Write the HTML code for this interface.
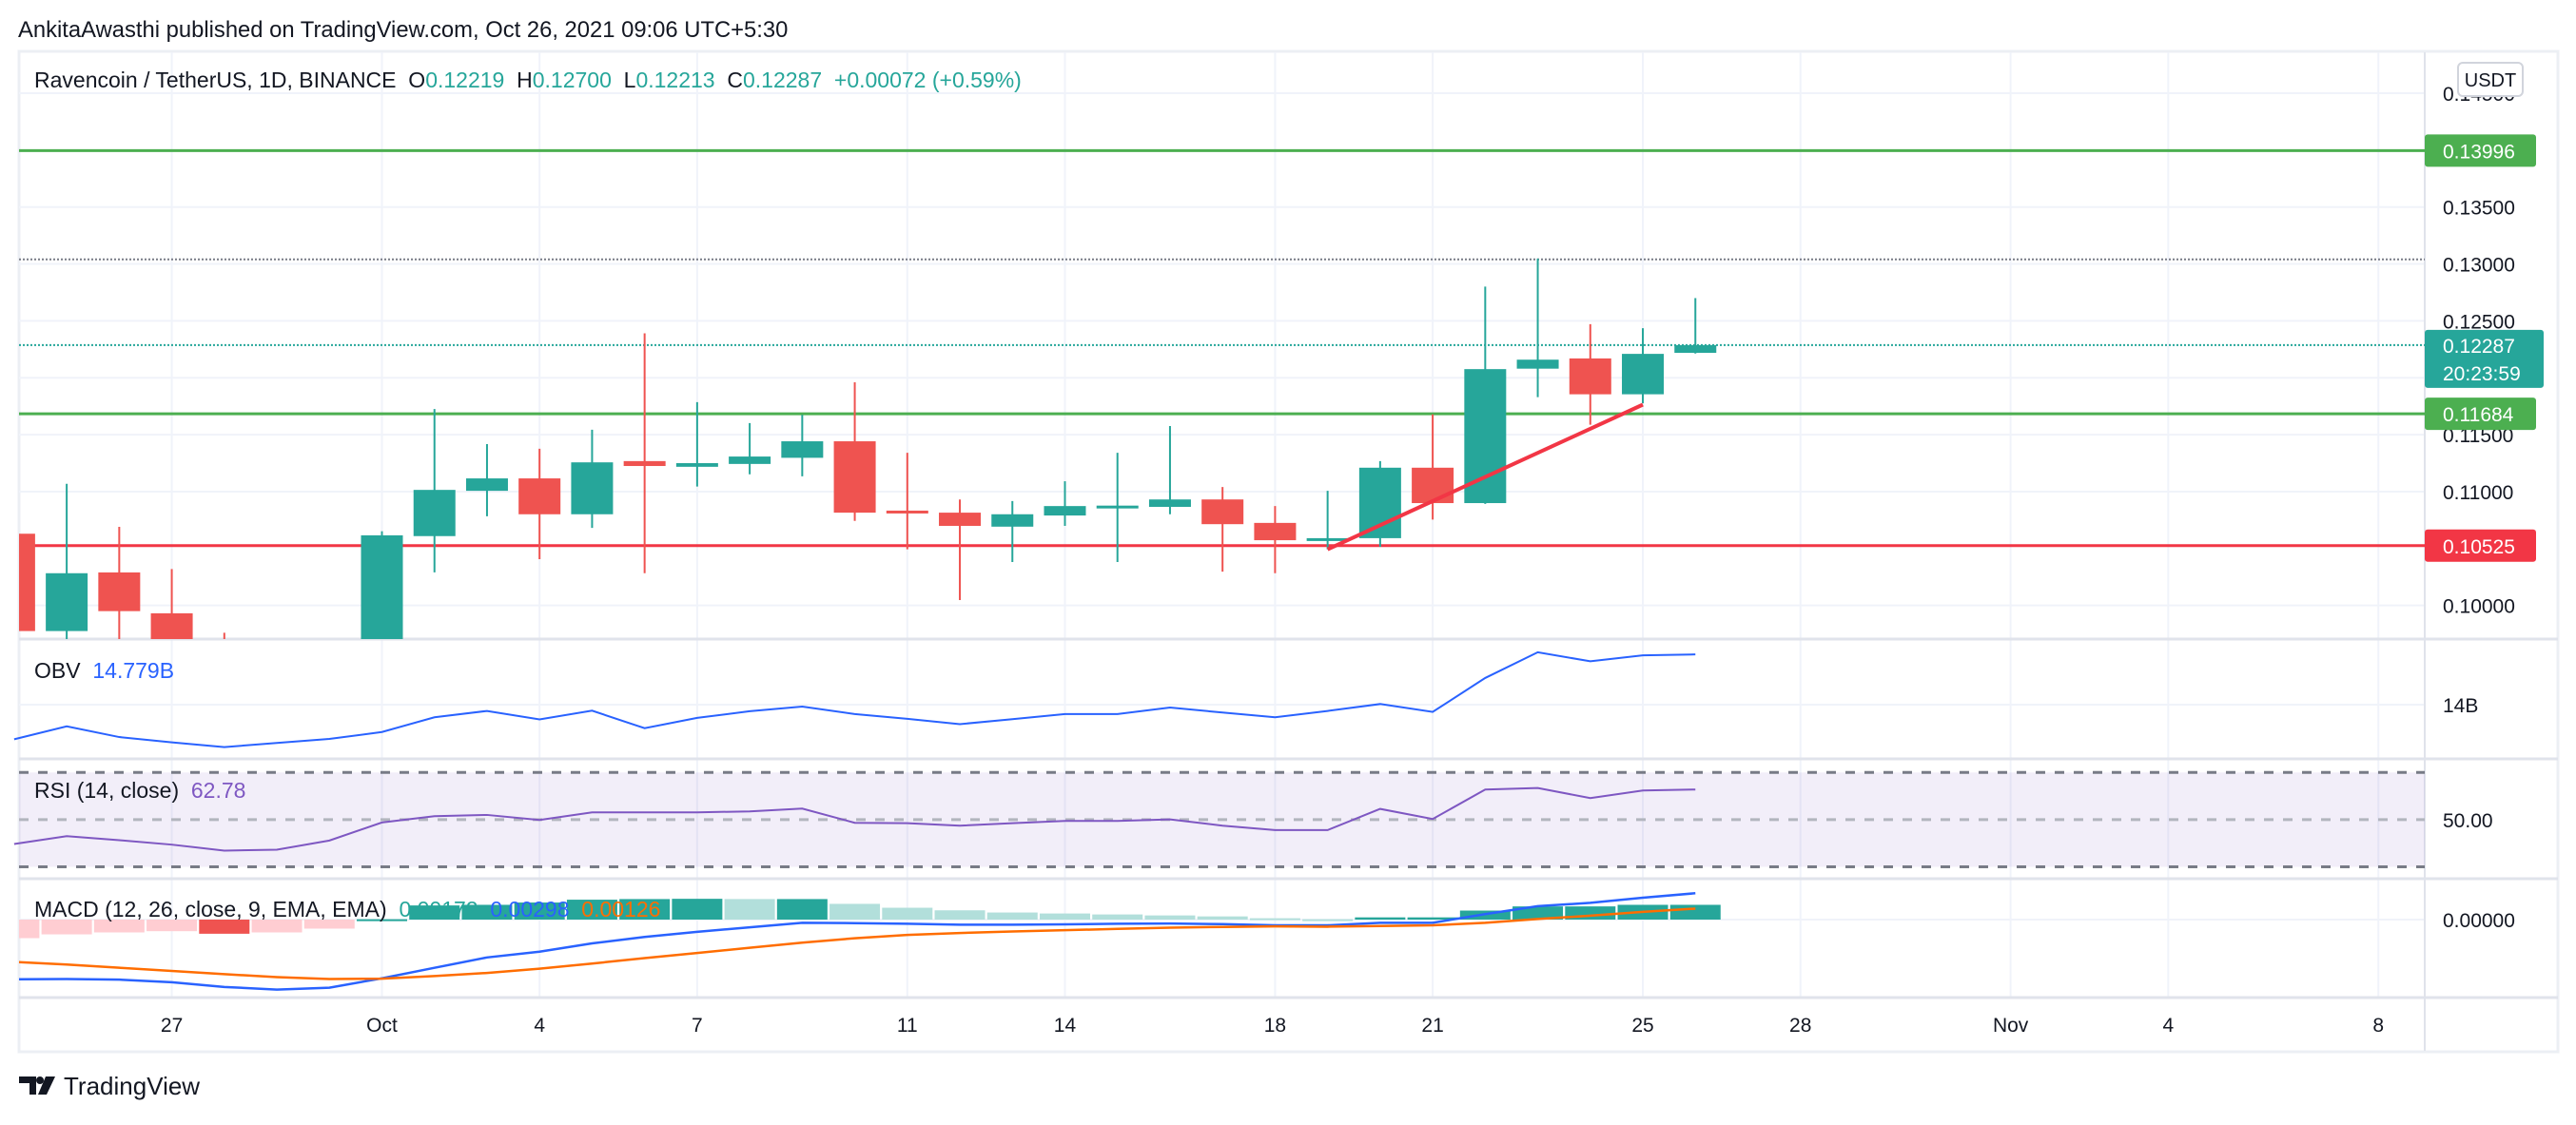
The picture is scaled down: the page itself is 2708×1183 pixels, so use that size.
<!DOCTYPE html>
<html><head><meta charset="utf-8">
<style>
html,body{margin:0;padding:0;background:#fff;}
body{width:2708px;height:1178px;overflow:hidden;font-family:"Liberation Sans","DejaVu Sans",sans-serif;}
svg text{font-family:"Liberation Sans","DejaVu Sans",sans-serif;}
</style></head>
<body>
<svg id="chart" width="2708" height="1178" viewBox="0 0 2708 1178" xmlns="http://www.w3.org/2000/svg">
<defs>
<clipPath id="cpPrice"><rect x="20" y="55" width="2529" height="617"/></clipPath>
<clipPath id="cpMacd"><rect x="20" y="926" width="2529" height="122"/></clipPath>
</defs>
<text x="19" y="39" font-size="23.8" fill="#131722">AnkitaAwasthi published on TradingView.com, Oct 26, 2021 09:06 UTC+5:30</text>
<rect x="20" y="54" width="2669" height="1052" fill="none" stroke="#eceff4" stroke-width="3"/>
<g id="grid"></g>
<g id="panes"></g>
<g id="price" clip-path="url(#cpPrice)"></g>
<g id="obv"></g>
<g id="rsi"></g>
<g id="macd" clip-path="url(#cpMacd)"></g>
<g id="axes"></g>
<g id="legends">
<text x="36" y="92" font-size="23" fill="#131722">Ravencoin / TetherUS, 1D, BINANCE&#160; O<tspan fill="#26a69a">0.12219</tspan>&#160; H<tspan fill="#26a69a">0.12700</tspan>&#160; L<tspan fill="#26a69a">0.12213</tspan>&#160; C<tspan fill="#26a69a">0.12287</tspan>&#160; <tspan fill="#26a69a">+0.00072 (+0.59%)</tspan></text>
<text x="36" y="713" font-size="23" fill="#131722">OBV&#160; <tspan fill="#2962ff">14.779B</tspan></text>
<text x="36" y="839" font-size="23" fill="#131722">RSI (14, close)&#160; <tspan fill="#7e57c2">62.78</tspan></text>
<text x="36" y="964" font-size="23" fill="#131722">MACD (12, 26, close, 9, EMA, EMA)&#160; <tspan fill="#26a69a">0.00172</tspan>&#160; <tspan fill="#2962ff">0.00298</tspan>&#160; <tspan fill="#ff6d00">0.00126</tspan></text>
</g>
<g>
<path d="M20 1132 h18 v19 h-7 v-12 h-11z" fill="#131722"/>
<circle cx="42" cy="1136" r="4" fill="#131722"/>
<path d="M48 1132 h10 l-9 19 h-9z" fill="#131722"/>
<text x="67" y="1151" font-size="26" fill="#131722">TradingView</text>
</g>
</svg>
<script>
// ---- data ----
const dates = ["Sep24","Sep25","Sep26","Sep27","Sep28","Sep29","Sep30","Oct1","Oct2","Oct3","Oct4","Oct5","Oct6","Oct7","Oct8","Oct9","Oct10","Oct11","Oct12","Oct13","Oct14","Oct15","Oct16","Oct17","Oct18","Oct19","Oct20","Oct21","Oct22","Oct23","Oct24","Oct25","Oct26"];
const dayIndex = [-7,-6,-5,-4,-3,-2,-1,0,1,2,3,4,5,6,7,8,9,10,11,12,13,14,15,16,17,18,19,20,21,22,23,24,25];
const opens  = [0.10630,0.09775,0.10290,0.09931,0.09650,0.09500,0.09450,0.09500,0.10609,0.11007,0.11116,0.10801,0.11268,0.11218,0.11243,0.11297,0.11442,0.10833,0.10815,0.10692,0.10790,0.10862,0.10866,0.10931,0.10725,0.10573,0.10591,0.11210,0.10899,0.12080,0.12170,0.11855,0.12219];
const highs  = [0.10700,0.11069,0.10690,0.10320,0.09760,0.09600,0.09550,0.10652,0.11725,0.11417,0.11377,0.11544,0.12391,0.11786,0.11602,0.11674,0.11960,0.11341,0.10931,0.10917,0.11091,0.11341,0.11576,0.11040,0.10873,0.11007,0.11268,0.11678,0.12801,0.13047,0.12471,0.12435,0.12700];
const lows   = [0.09700,0.09650,0.09600,0.09500,0.09400,0.09350,0.09350,0.09400,0.10290,0.10783,0.10406,0.10681,0.10283,0.11044,0.11152,0.11134,0.10743,0.10493,0.10047,0.10381,0.10699,0.10381,0.10801,0.10297,0.10283,0.10493,0.10515,0.10754,0.10892,0.11830,0.11587,0.11775,0.12213];
const closes = [0.09775,0.10283,0.09950,0.09600,0.09550,0.09450,0.09500,0.10616,0.11015,0.11116,0.10801,0.11257,0.11225,0.11250,0.11308,0.11442,0.10815,0.10815,0.10699,0.10801,0.10873,0.10877,0.10931,0.10714,0.10573,0.10591,0.11210,0.10899,0.12076,0.12159,0.11855,0.12210,0.12287];
const obvValues = [13.464,13.664,13.498,13.416,13.343,13.406,13.469,13.576,13.805,13.903,13.771,13.907,13.635,13.795,13.898,13.971,13.854,13.781,13.698,13.776,13.854,13.854,13.956,13.878,13.805,13.903,14.010,13.888,14.414,14.813,14.672,14.765,14.779];
const rsiValues = [39.67,43.0,41.28,39.4,36.85,37.25,41.14,48.8,51.48,52.0,49.87,53.1,53.1,53.1,53.5,54.7,48.66,48.5,47.45,48.5,49.46,49.46,50.13,47.45,45.57,45.57,54.56,50.27,62.75,63.42,59.13,62.35,62.78];
const macdValues = [-6.75,-6.72,-6.79,-7.08,-7.62,-7.91,-7.70,-6.64,-5.45,-4.28,-3.63,-2.69,-1.96,-1.38,-0.87,-0.36,-0.40,-0.47,-0.58,-0.58,-0.54,-0.47,-0.44,-0.51,-0.65,-0.65,-0.36,-0.36,0.62,1.52,1.89,2.47,2.98];
const signalValues = [-4.79,-5.08,-5.45,-5.81,-6.17,-6.50,-6.72,-6.68,-6.39,-6.03,-5.55,-4.97,-4.36,-3.78,-3.19,-2.61,-2.11,-1.74,-1.52,-1.34,-1.20,-1.05,-0.91,-0.83,-0.76,-0.80,-0.73,-0.65,-0.36,0.07,0.44,0.87,1.24];
const histValues = [-2.1,-1.67,-1.45,-1.31,-1.60,-1.45,-1.02,0.04,1.6,1.67,1.93,2.25,2.32,2.35,2.32,2.32,1.78,1.34,1.05,0.80,0.69,0.58,0.47,0.36,0.15,0.04,0.25,0.25,1.02,1.49,1.49,1.67,1.67];
const priceTicks = [0.145,0.135,0.130,0.125,0.120,0.115,0.110,0.100];
const priceTickLabels = ["0.14500","0.13500","0.13000","0.12500","","0.11500","0.11000","0.10000"];
const timeTickDays = [-4,0,3,6,10,13,17,20,24,27,31,34,38];
const timeTickLabels = ["27","Oct","4","7","11","14","18","21","25","28","Nov","4","8"];
const levelPrices = [0.13996,0.11684,0.10525];
const levelLabels = ["0.13996","0.11684","0.10525"];
const levelColors = ["#4caf50","#4caf50","#f23645"];
const trendStart = [18,0.10493];
const trendEnd = [24,0.11764];
const lastPrice = 0.12287;
const dottedHigh = 0.1304;

// ---- scales ----
const NS="http://www.w3.org/2000/svg";
const X0=401.5, DX=55.23, PLOTR=2549;
const xOf = d => X0 + d*DX;
const yPrice = p => 217.7 + (0.135-p)/0.005*59.85;
const yObv = v => 741 - (v-14)*67.83;
const yRsi = v => 861.9 - (v-50)*2.48;
const yMacd = v => 967 - v*9.3;
function mk(parent,tag,attrs){const e=document.createElementNS(NS,tag);for(const k in attrs)e.setAttribute(k,attrs[k]);parent.appendChild(e);return e;}
const g = id => document.getElementById(id);

// grid
const grid=g('grid');
timeTickDays.forEach((d)=>{const l=mk(grid,'line',{x1:xOf(d),x2:xOf(d),y1:55,y2:1049,stroke:'#f0f3fa','stroke-width':2});

});
priceTicks.forEach(p=>{const l=mk(grid,'line',{x1:20,x2:PLOTR,y1:yPrice(p),y2:yPrice(p),stroke:'#f0f3fa','stroke-width':2});

});
[741].forEach(y=>{const l=mk(grid,'line',{x1:20,x2:PLOTR,y1:y,y2:y,stroke:'#f0f3fa','stroke-width':2});

});
{const l=mk(grid,'line',{x1:20,x2:PLOTR,y1:yMacd(0),y2:yMacd(0),stroke:'#f0f3fa','stroke-width':2});

}

// pane separators
const panes=g('panes');
[672,798,924,1049].forEach(y=>{const l=mk(panes,'line',{x1:20,x2:2689,y1:y,y2:y,stroke:'#e0e3eb','stroke-width':3});

});
{const l=mk(panes,'line',{x1:PLOTR,x2:PLOTR,y1:55,y2:1105,stroke:'#e0e3eb','stroke-width':2});

}

// price pane
const pr=g('price');
levelPrices.forEach((p,i)=>{const l=mk(pr,'line',{x1:20,x2:PLOTR,y1:yPrice(p),y2:yPrice(p),stroke:levelColors[i],'stroke-width':3});

});
{const l=mk(pr,'line',{x1:20,x2:PLOTR,y1:yPrice(dottedHigh),y2:yPrice(dottedHigh),stroke:'#787b86','stroke-width':2,'stroke-dasharray':'2 2'});

}
{const l=mk(pr,'line',{x1:20,x2:PLOTR,y1:yPrice(lastPrice),y2:yPrice(lastPrice),stroke:'#26a69a','stroke-width':2,'stroke-dasharray':'2 2'});

}
dates.forEach((dt,i)=>{
  const x=xOf(dayIndex[i]); const up=closes[i]>=opens[i]; const c=up?'#26a69a':'#ef5350';
  const grp=mk(pr,'g',{});
  
  
  mk(grp,'line',{x1:x,x2:x,y1:yPrice(highs[i]),y2:yPrice(lows[i]),stroke:c,'stroke-width':2});
  const t=Math.min(yPrice(opens[i]),yPrice(closes[i])); const h=Math.max(3,Math.abs(yPrice(opens[i])-yPrice(closes[i])));
  mk(grp,'rect',{x:x-22,y:t,width:44,height:h,fill:c});
});
{const l=mk(pr,'line',{x1:xOf(trendStart[0]),y1:yPrice(trendStart[1]),x2:xOf(trendEnd[0]),y2:yPrice(trendEnd[1]),stroke:'#f23645','stroke-width':4});

}

// OBV
const ob=g('obv');
{const p=mk(ob,'polyline',{points:obvValues.map((v,i)=>xOf(dayIndex[i])+','+yObv(v)).join(' '),fill:'none',stroke:'#2962ff','stroke-width':2});

}

// RSI
const rs=g('rsi');
{const r=mk(rs,'rect',{x:20,y:yRsi(70),width:PLOTR-20,height:yRsi(30)-yRsi(70),fill:'rgba(126,87,194,0.1)'});

}
[[70,'#787b86'],[50,'#b2b5be'],[30,'#787b86']].forEach(([v,c])=>{const l=mk(rs,'line',{x1:20,x2:PLOTR,y1:yRsi(v),y2:yRsi(v),stroke:c,'stroke-width':3,'stroke-dasharray':'10 10'});

});
{const p=mk(rs,'polyline',{points:rsiValues.map((v,i)=>xOf(dayIndex[i])+','+yRsi(v)).join(' '),fill:'none',stroke:'#7e57c2','stroke-width':2});

}

// MACD
const mc=g('macd');
histValues.forEach((v,i)=>{
  const prev=i>0?histValues[i-1]:v; let c;
  if(v>=0) c=(v>=prev)?'#26a69a':'#b2dfdb'; else c=(v<prev)?'#ef5350':'#ffcdd2';
  const y0=yMacd(0), y1=yMacd(v);
  const r=mk(mc,'rect',{x:xOf(dayIndex[i])-26.5,y:Math.min(y0,y1),width:53,height:Math.max(2,Math.abs(y1-y0)),fill:c});
  
  
});
{const p=mk(mc,'polyline',{points:macdValues.map((v,i)=>xOf(dayIndex[i])+','+yMacd(v)).join(' '),fill:'none',stroke:'#2962ff','stroke-width':2.5});

}
{const p=mk(mc,'polyline',{points:signalValues.map((v,i)=>xOf(dayIndex[i])+','+yMacd(v)).join(' '),fill:'none',stroke:'#ff6d00','stroke-width':2.5});

}

// axes
const ax=g('axes');
priceTicks.forEach((p,i)=>{if(!priceTickLabels[i])return;const t=mk(ax,'text',{x:2568,y:yPrice(p)+8,'font-size':21,fill:'#131722'});t.textContent=priceTickLabels[i];

});
{const t=mk(ax,'text',{x:2568,y:749,'font-size':21,fill:'#131722'});t.textContent='14B';

}
{const t=mk(ax,'text',{x:2568,y:yRsi(50)+8,'font-size':21,fill:'#131722'});t.textContent='50.00';

}
{const t=mk(ax,'text',{x:2568,y:yMacd(0)+8,'font-size':21,fill:'#131722'});t.textContent='0.00000';

}
timeTickDays.forEach((d,i)=>{const t=mk(ax,'text',{x:xOf(d),y:1085,'font-size':21,fill:'#131722','text-anchor':'middle'});t.textContent=timeTickLabels[i];

});
levelPrices.forEach((p,i)=>{const y=yPrice(p);
  const r=mk(ax,'rect',{x:2549,y:y-17,width:117,height:34,rx:3,fill:levelColors[i]});
  
  
  const t=mk(ax,'text',{x:2568,y:y+8,'font-size':21,fill:'#fff'});t.textContent=levelLabels[i];
  
  });
{const y=yPrice(lastPrice);
 const r=mk(ax,'rect',{x:2549,y:y-16,width:125,height:61,rx:3,fill:'#26a69a'});
 
 
 const t=mk(ax,'text',{x:2568,y:y+8,'font-size':21,fill:'#fff'});t.textContent='0.12287';
 
 
 const t2=mk(ax,'text',{x:2568,y:y+37,'font-size':21,fill:'#fff'});t2.textContent='20:23:59';
 
 }
{const r=mk(ax,'rect',{x:2584,y:66,width:68,height:35,rx:5,fill:'#fff',stroke:'#d1d4dc','stroke-width':2});
 
 
 const t=mk(ax,'text',{x:2618,y:91,'font-size':20,fill:'#131722','text-anchor':'middle'});t.textContent='USDT';
 
 }
</script>
</body></html>
